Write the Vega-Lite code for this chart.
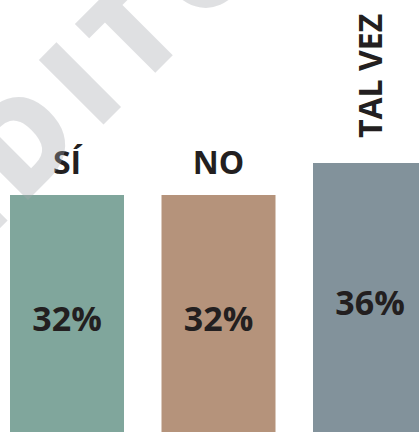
{
  "$schema": "https://vega.github.io/schema/vega-lite/v6.json",
  "width": 419,
  "height": 432,
  "autosize": "none",
  "padding": 0,
  "background": "white",
  "config": {"view": {"stroke": null}, "font": "Open Sans"},
  "data": {
    "values": [
      {"cat": "SÍ", "value": 32, "label": "32%"},
      {"cat": "NO", "value": 32, "label": "32%"},
      {"cat": "TAL VEZ", "value": 36, "label": "36%"}
    ]
  },
  "layer": [
    {
      "mark": {"type": "bar"},
      "encoding": {
        "x": {"field": "cat", "type": "nominal", "axis": null,
          "scale": {"domain": ["SÍ", "NO", "TAL VEZ"], "range": [0, 437], "paddingInner": 0.2475, "paddingOuter": 0.066}},
        "y": {"field": "value", "type": "quantitative", "axis": null,
          "scale": {"domain": [0, 56.375], "range": [451, 0]}},
        "color": {"field": "cat", "type": "nominal", "legend": null,
          "scale": {"domain": ["SÍ", "NO", "TAL VEZ"], "range": ["#80a69c", "#b5937b", "#82929b"]}}
      }
    },
    {
      "transform": [{"filter": "datum.cat !== 'TAL VEZ'"}],
      "mark": {"type": "text", "font": "Open Sans", "fontWeight": "bold", "fontSize": 32, "color": "#231f20", "baseline": "alphabetic", "align": "center", "dy": -21},
      "encoding": {
        "x": {"field": "cat", "type": "nominal"},
        "y": {"field": "value", "type": "quantitative", "axis": null, "scale": {"domain": [0, 56.375], "range": [451, 0]}},
        "text": {"field": "cat"}
      }
    },
    {
      "transform": [{"filter": "datum.cat === 'TAL VEZ'"}],
      "mark": {"type": "text", "font": "Open Sans", "fontWeight": "bold", "fontSize": 32, "color": "#231f20", "baseline": "alphabetic", "align": "left", "angle": 270, "dx": 25, "dy": 12},
      "encoding": {
        "x": {"field": "cat", "type": "nominal"},
        "y": {"field": "value", "type": "quantitative", "axis": null, "scale": {"domain": [0, 56.375], "range": [451, 0]}},
        "text": {"field": "cat"}
      }
    },
    {
      "mark": {"type": "text", "font": "Open Sans", "fontWeight": "bold", "fontSize": 34, "color": "#231f20", "baseline": "alphabetic", "align": "center", "dy": 7.5},
      "encoding": {
        "x": {"field": "cat", "type": "nominal"},
        "y": {"field": "value", "type": "quantitative", "axis": null, "scale": {"domain": [0, 112.75], "range": [451, 0]}},
        "text": {"field": "label"}
      }
    },
    {
      "data": {"values": [{"wm": "E\u200aD\u200aI\u200aT\u200aO\u200aR\u200aI\u200aA\u200aL"}]},
      "mark": {"type": "text", "font": "Open Sans", "fontWeight": 800, "fontSize": 128, "color": "#a6a9af", "opacity": 0.35, "baseline": "alphabetic", "align": "left", "angle": 315, "dx": -148},
      "encoding": {
        "x": {"datum": "SÍ"},
        "y": {"datum": 36.25, "type": "quantitative", "axis": null, "scale": {"domain": [0, 56.375], "range": [451, 0]}},
        "text": {"field": "wm"}
      }
    }
  ],
  "resolve": {"scale": {"y": "independent"}}
}
